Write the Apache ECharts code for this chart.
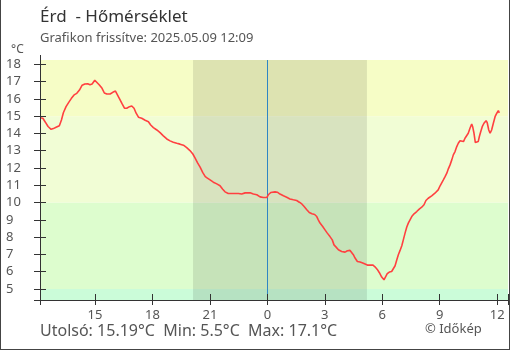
<!DOCTYPE html>
<html>
<head>
<meta charset="utf-8">
<script src="https://cdn.jsdelivr.net/npm/echarts@6/dist/echarts.min.js"></script>
<style>
html,body{margin:0;padding:0;background:#fff;}
#c{width:510px;height:350px;}
</style>
</head>
<body>
<div id="c"></div>
<script>
// hours relative to midnight (2025.05.09 00:00)
const hours = [-11.87,-11.72,-11.59,-11.45,-11.29,-11.17,-11.03,-10.86,-10.75,-10.65,-10.51,-10.37,-10.23,-10.09,-9.95,-9.81,-9.67,-9.53,-9.38,-9.26,-9.15,-9.01,-8.91,-8.77,-8.63,-8.51,-8.38,-8.21,-8.07,-7.93,-7.83,-7.73,-7.58,-7.46,-7.34,-7.20,-7.08,-6.96,-6.85,-6.73,-6.56,-6.38,-6.21,-6.09,-5.95,-5.77,-5.60,-5.43,-5.25,-5.08,-4.91,-4.73,-4.56,-4.38,-4.21,-4.04,-3.89,-3.77,-3.65,-3.51,-3.37,-3.24,-3.13,-2.99,-2.82,-2.64,-2.47,-2.33,-2.21,-2.04,-1.77,-1.51,-1.34,-1.16,-0.90,-0.73,-0.55,-0.38,-0.21,-0.03,0.05,0.18,0.40,0.52,0.66,0.84,1.01,1.18,1.36,1.53,1.67,1.80,1.92,2.06,2.19,2.33,2.47,2.58,2.66,2.75,2.89,3.01,3.13,3.27,3.39,3.48,3.59,3.71,3.88,4.06,4.18,4.32,4.41,4.49,4.58,4.70,4.84,4.98,5.10,5.22,5.36,5.50,5.62,5.74,5.85,5.97,6.09,6.18,6.26,6.37,6.49,6.58,6.67,6.76,6.84,6.93,7.02,7.10,7.19,7.28,7.36,7.45,7.54,7.66,7.80,7.93,8.06,8.18,8.28,8.40,8.58,8.75,8.92,9.02,9.10,9.19,9.28,9.37,9.45,9.54,9.63,9.71,9.80,9.89,9.97,10.06,10.15,10.24,10.32,10.41,10.49,10.58,10.67,10.72,10.79,10.86,10.93,11.01,11.07,11.14,11.22,11.31,11.42,11.48,11.56,11.63,11.71,11.80,11.89,11.98,12.06,12.11];
const temps = [14.91,14.88,14.65,14.40,14.24,14.28,14.36,14.45,14.78,15.20,15.55,15.80,16.03,16.23,16.32,16.51,16.79,16.86,16.88,16.82,16.86,17.08,17.00,16.80,16.61,16.34,16.28,16.28,16.38,16.45,16.36,16.03,15.71,15.46,15.46,15.55,15.59,15.46,15.17,14.94,14.88,14.76,14.68,14.49,14.34,14.20,14.05,13.86,13.68,13.57,13.49,13.43,13.38,13.32,13.18,13.01,12.81,12.57,12.31,12.05,11.73,11.50,11.41,11.31,11.18,11.08,10.97,10.77,10.62,10.52,10.52,10.52,10.49,10.56,10.56,10.49,10.45,10.33,10.29,10.29,10.45,10.58,10.62,10.60,10.49,10.39,10.31,10.21,10.16,10.12,10.02,9.92,9.77,9.58,9.42,9.35,9.31,9.19,9.00,8.81,8.61,8.42,8.23,8.03,7.84,7.55,7.42,7.27,7.17,7.13,7.21,7.23,7.17,6.98,6.79,6.59,6.56,6.50,6.44,6.38,6.38,6.39,6.28,6.13,5.94,5.69,5.53,5.63,5.88,5.98,6.01,6.07,6.34,6.69,6.98,7.23,7.50,7.84,8.23,8.58,8.81,9.00,9.19,9.35,9.48,9.62,9.73,9.87,10.12,10.25,10.39,10.54,10.73,10.97,11.08,11.31,11.50,11.70,11.95,12.18,12.47,12.76,12.95,13.24,13.43,13.58,13.53,13.53,13.72,13.78,14.01,14.30,14.55,14.39,14.01,13.47,13.47,13.53,13.82,14.10,14.39,14.59,14.74,14.62,14.20,14.01,14.20,14.59,14.97,15.17,15.32,15.19];
const xTicks = [-9,-6,-3,0,3,6,9,12];
const yTicks = [5,6,7,8,9,10,11,12,13,14,15,16,17,18];
const xMin = -11.87, xMax = 12.565;
const yMin = 4.36, yMax = 18.25;
const nightStart = -3.88, nightEnd = 5.20;
const bands = [[yMin,5,'#cbfcd9'],[5,10,'#ddfdce'],[10,15,'#f1fdd5'],[15,yMax,'#f6fdc6']];
const titleText = 'Érd  - Hőmérséklet';
const subText = 'Grafikon frissítve: 2025.05.09 12:09';
const footText = 'Utolsó: 15.19°C  Min: 5.5°C  Max: 17.1°C';
const credit = '© Időkép';

const FONT = 'Noto Sans';
const chart = echarts.init(document.getElementById('c'), null, {renderer:'canvas'});
const data = hours.map((h,i)=>[h,temps[i]]);
const fmt = v => String(((Math.round(v)%24)+24)%24);
const xBase = {type:'value', min:xMin, max:xMax, z:10, splitLine:{show:false},
  axisLine:{onZero:false,lineStyle:{color:'#333',width:1}}};
const yBase = {type:'value', min:yMin, max:yMax, z:10, splitLine:{show:false},
  axisLine:{show:true,onZero:false,lineStyle:{color:'#333',width:1}}};
chart.setOption({
  animation:false,
  grid:{left:40,right:2,top:60,bottom:50},
  xAxis:[
    Object.assign({}, xBase, {position:'bottom',
      axisTick:{show:true,inside:false,length:5,customValues:[xMin].concat(xTicks,[xMax]),lineStyle:{color:'#333'}},
      axisLabel:{customValues:xTicks,formatter:fmt,margin:9,color:'#555',fontSize:13,fontFamily:FONT}
    }),
    Object.assign({}, xBase, {position:'bottom', offset:0,
      axisTick:{show:true,inside:true,length:6,customValues:[xMin].concat(xTicks,[xMax]),lineStyle:{color:'#333'}},
      axisLabel:{show:false}
    })
  ],
  yAxis:[
    Object.assign({}, yBase, {position:'left',
      axisTick:{show:true,inside:false,length:6,customValues:[yMin].concat(yTicks),lineStyle:{color:'#333'}},
      axisLabel:{customValues:yTicks,align:'left',margin:34,color:'#555',fontSize:13,fontFamily:FONT}
    }),
    Object.assign({}, yBase, {position:'left', offset:0,
      axisTick:{show:true,inside:true,length:6,customValues:[yMin].concat(yTicks),lineStyle:{color:'#333'}},
      axisLabel:{show:false}
    })
  ],
  series:[
    {type:'line', data:[], z:1, silent:true,
     markArea:{silent:true, label:{show:false}, data:bands.map(b=>[{yAxis:b[0],itemStyle:{color:b[2]}},{yAxis:b[1]}])}},
    {type:'line', data:[], z:2, silent:true,
     markArea:{silent:true, label:{show:false}, itemStyle:{color:'rgba(0,0,0,0.1)'}, data:[[{xAxis:nightStart},{xAxis:nightEnd}]]}},
    {type:'line', data:[], z:3, silent:true,
     markLine:{silent:true, symbol:['none','none'], label:{show:false}, lineStyle:{color:'#2f86c4',width:1,type:'solid',opacity:1}, data:[{xAxis:0}]}},
    {type:'line', data:data, z:5, showSymbol:false, symbol:'none', smooth:false,
     lineStyle:{color:'#ff4040',width:1.6}, silent:true}
  ],
  graphic:[
    {type:'text', left:40, top:9, style:{text:titleText, font:'17px "'+FONT+'"', fill:'#333'}},
    {type:'text', left:40, top:32, style:{text:subText, font:'13px "'+FONT+'"', fill:'#555'}},
    {type:'text', left:11, top:44, style:{text:'°C', font:'12px "'+FONT+'"', fill:'#555'}},
    {type:'text', left:40, top:323, style:{text:footText, font:'16px "'+FONT+'"', fill:'#555'}},
    {type:'text', left:425, top:323, style:{text:credit, font:'13px "'+FONT+'"', fill:'#555'}},
    {type:'line', z:20, shape:{x1:40.5,y1:55,x2:40.5,y2:60}, style:{stroke:'#333',lineWidth:1}},
    {type:'line', shape:{x1:0.5,y1:0,x2:0.5,y2:349.5}, style:{stroke:'#444',lineWidth:1}},
    {type:'line', shape:{x1:509.5,y1:0,x2:509.5,y2:349.5}, style:{stroke:'#444',lineWidth:1}},
    {type:'line', shape:{x1:0,y1:349.5,x2:510,y2:349.5}, style:{stroke:'#444',lineWidth:1}}
  ]
});
</script>
</body>
</html>
